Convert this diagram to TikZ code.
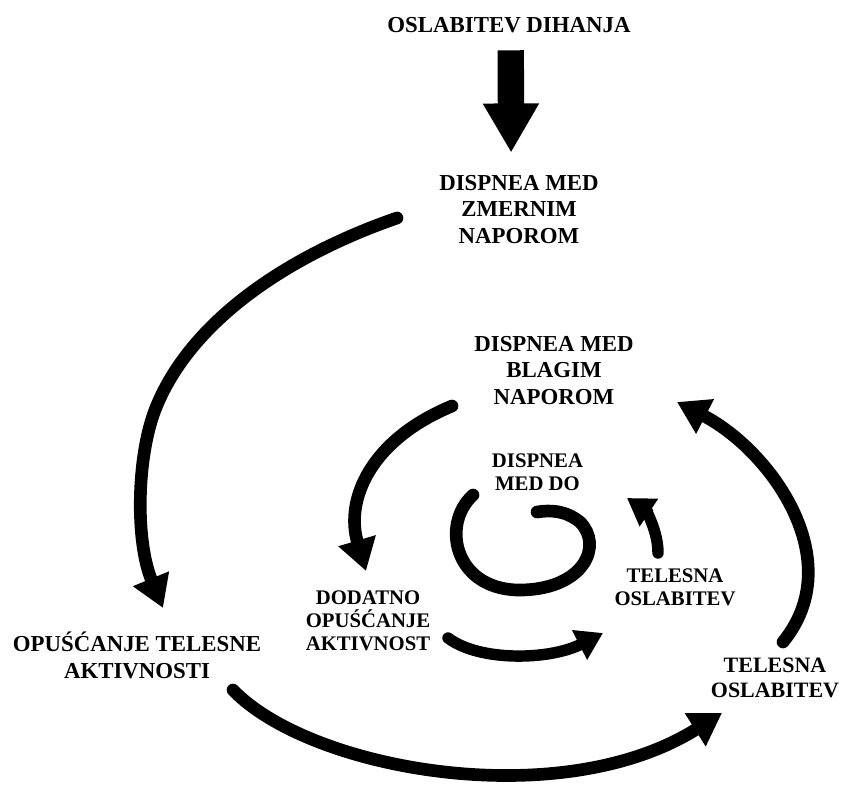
\documentclass[tikz,border=0pt]{standalone}
\usepackage{fontspec}
\setmainfont{Liberation Serif}
\usetikzlibrary{arrows.meta, calc}
\tikzset{
  lbl/.style={align=center, inner sep=0pt, font=\fontsize{13}{15.3}\selectfont\bfseries},
  lblsmall/.style={lbl, font=\fontsize{11.8}{13}\selectfont\bfseries},
  cyc/.style={line width=7.2pt, line cap=round, -{Triangle[width=21pt,length=18pt]}},
  cycsmall/.style={cyc, line width=6.5pt, -{Triangle[width=18pt,length=15pt]}},
  loopline/.style={line width=7.2pt, line cap=round},
  bigarrow/.style={line width=15pt, -{Triangle[width=30pt,length=28pt]}},
}

\begin{document}
\begin{tikzpicture}[x=0.02cm, y=-0.02cm]
  \useasboundingbox (0,0) rectangle (846,785);
  % labels
  \node[lbl] (cause) at (509,25.5) {OSLABITEV DIHANJA};
  \node[lbl] (zmernim) at (519,209.5) {DISPNEA MED\\ZMERNIM\\NAPOROM};
  \node[lbl] (opusc) at (137,655) {OPUŚĆANJE TELESNE\\AKTIVNOSTI};
  \node[lbl, font=\fontsize{12.5}{14.2}\selectfont\bfseries] (telout) at (775,678) {TELESNA\\OSLABITEV};
  \node[lbl] (blagim) at (554,370.5) {DISPNEA MED\\BLAGIM\\NAPOROM};
  \node[lblsmall] (dodatno) at (368,621) {DODATNO\\OPUŚĆANJE\\AKTIVNOST};
  \node[lblsmall] (telin) at (675,587) {TELESNA\\OSLABITEV};
  \node[lblsmall] (meddo) at (537.5,472) {DISPNEA\\MED DO};

  \draw[bigarrow] ([xshift=1pt,yshift=-9.5pt]cause.south) -- ([xshift=-4.5pt,yshift=12.5pt]zmernim.north);

  % outer cycle
  \draw[cyc] ($(zmernim)+(-122,8.5)$) .. controls (290,255) and (190,320) .. (155,410)
    .. controls (137,457) and (135,540) .. ($(opusc)+(26,-47)$);
  \draw[cyc] ($(opusc)+(96,35)$) .. controls (310,770) and (560,815) .. ($(telout)+(-53,35)$);
  \draw[cyc] ($(telout)+(8,-36)$) .. controls (850,560) and (770,450) .. ($(blagim)+(123,31.5)$);
  % inner cycle
  \draw[cyc] ($(blagim)+(-102,35.5)$) .. controls (370,440) and (345,500) .. ($(dodatno)+(-2,-50)$);
  \draw[cycsmall] ($(dodatno)+(80,17)$) .. controls (480,662) and (550,660) .. ($(telin)+(-72,46)$);
  \draw[cycsmall] ($(telin)+(-17,-34)$) .. controls (658,530) and (645,510) .. ($(meddo)+(89.5,26)$);
  % spiral
  \draw[loopline] (473,495) .. controls (440,525) and (455,592) .. (523,590)
    .. controls (585,588) and (603,545) .. (580,522)
    .. controls (565,510) and (550,510) .. (537,512);
\end{tikzpicture}
\end{document}
